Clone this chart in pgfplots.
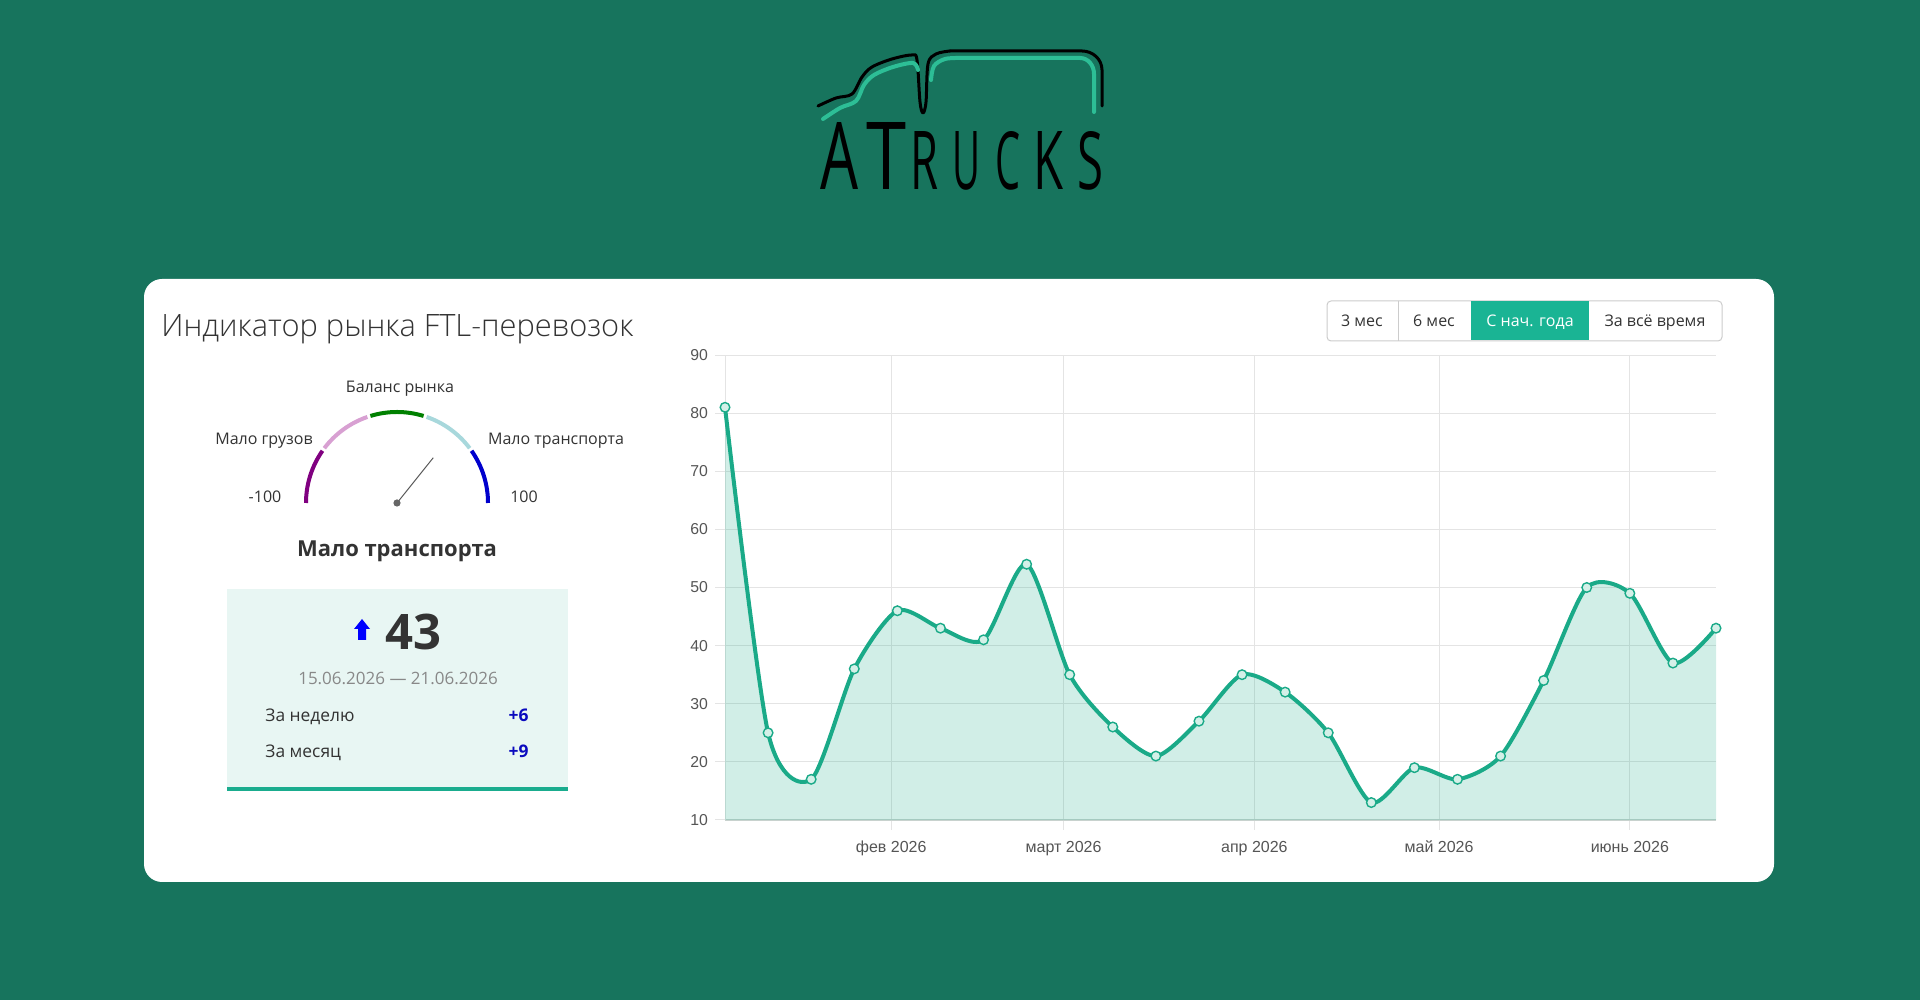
\documentclass[border=0pt]{standalone}
\usepackage{pgfplots}
\pgfplotsset{compat=1.18}
\usepackage{fontspec}
\setmainfont{Open Sans}
\IfFontExistsTF{Open Sans Light}{\newfontfamily\titlefont{Open Sans Light}}{\newfontfamily\titlefont{Open Sans}}
\newfontfamily\tickfont{Liberation Sans}
\definecolor{bg}{RGB}{23,116,93}
\definecolor{txt}{RGB}{51,51,51}
\definecolor{linec}{RGB}{26,170,136}
\definecolor{fillc}{RGB}{212,240,232}
\definecolor{gridc}{RGB}{228,228,228}
\definecolor{axisc}{RGB}{200,210,206}
\definecolor{tickc}{RGB}{85,85,85}
\definecolor{boxc}{RGB}{232,246,243}
\definecolor{boxline}{RGB}{26,172,142}
\definecolor{btnact}{RGB}{26,180,148}
\definecolor{btnborder}{RGB}{204,204,204}
\definecolor{datec}{RGB}{136,136,136}
\definecolor{plusc}{RGB}{10,10,190}
\definecolor{logoteal}{RGB}{45,190,150}
\definecolor{gpurple}{RGB}{128,0,128}
\definecolor{gplum}{RGB}{216,160,210}
\definecolor{ggreen}{RGB}{0,128,0}
\definecolor{gpowder}{RGB}{168,216,220}
\definecolor{gblue}{RGB}{0,0,205}
\newcommand{\fs}[1]{\fontsize{#1pt}{#1pt}\selectfont}
\begin{document}
\begin{tikzpicture}
\useasboundingbox (0,0) rectangle (960pt,500pt);
\fill[bg] (0,0) rectangle (960pt,500pt);
\begin{scope}[shift={(0pt,500pt)},x=0.5pt,y=-0.5pt]
  % card
  \fill[white, rounded corners=9pt] (144,279) rectangle (1774,882);
  % logo outline
  \draw[black, line width=1.5pt, line cap=round, line join=round] plot[smooth, tension=0.55] coordinates {(818,106) (836,98) (852,94) (862,77) (872,67) (892,59) (912,55) (917,60) (920,102) (923,113) (926,102) (928,64) (936,54) (950,51)};
  \draw[black, line width=1.5pt, line cap=round] (950,51) -- (1082,51) to[out=0,in=90] (1102,70) -- (1102,106);
  \draw[logoteal, line width=2pt, line cap=round, line join=round] plot[smooth, tension=0.55] coordinates {(823,119) (840,108) (856,101) (864,85) (874,75) (893,67) (913,63) (918,70)};
  \draw[logoteal, line width=2pt, line cap=round, line join=round] plot[smooth, tension=0.55] coordinates {(931,80) (934,66) (945,59) (960,58)};
  \draw[logoteal, line width=2pt, line cap=round] (960,58) -- (1080,58) to[out=0,in=90] (1094,74) -- (1094,112);
  % logo letters
  \node[anchor=base, inner sep=0] at (839,190) {\resizebox{19pt}{33.5pt}{A}};
  \node[anchor=base, inner sep=0] at (886,190) {\resizebox{20pt}{33.5pt}{T}};
  \node[anchor=base, inner sep=0] at (924,190) {\resizebox{14pt}{29pt}{R}};
  \node[anchor=base, inner sep=0] at (966,190) {\resizebox{14pt}{29pt}{U}};
  \node[anchor=base, inner sep=0] at (1008,190) {\resizebox{12.5pt}{29pt}{C}};
  \node[anchor=base, inner sep=0] at (1048,190) {\resizebox{15pt}{29pt}{K}};
  \node[anchor=base, inner sep=0] at (1090,190) {\resizebox{13pt}{29pt}{S}};
  % title
  \node[anchor=base west, inner sep=0, text=txt] at (161,337) {\titlefont\fs{15.4}Индикатор рынка FTL-перевозок};
  % gauge labels
  \node[anchor=base, inner sep=0, text=txt] at (400,393) {\fs{8}Баланс рынка};
  \node[anchor=base, inner sep=0, text=txt] at (264,445) {\fs{8}Мало грузов};
  \node[anchor=base, inner sep=0, text=txt] at (556,445) {\fs{8}Мало транспорта};
  \node[anchor=base, inner sep=0, text=txt] at (265,503) {\fs{8}-100};
  \node[anchor=base, inner sep=0, text=txt] at (524,503) {\fs{8}100};
  \node[anchor=base, inner sep=0, text=txt] at (397,557) {\fs{11}\bfseries Мало транспорта};
  % info box
  \fill[boxc] (227,589) rectangle (568,788);
  \fill[boxline] (227,787) rectangle (568,791);
  \fill[blue] (362,619) -- (370,629) -- (366,629) -- (366,640) -- (358,640) -- (358,629) -- (354,629) -- cycle;
  \node[anchor=base, inner sep=0, text=txt] at (413,650) {\fs{24.5}\bfseries 43};
  \node[anchor=base, inner sep=0, text=datec] at (398,685) {\fs{8.5}15.06.2026 — 21.06.2026};
  \node[anchor=base west, inner sep=0, text=txt] at (265,722) {\fs{8.7}За неделю};
  \node[anchor=base east, inner sep=0, text=plusc] at (529,722) {\fs{8.7}\bfseries +6};
  \node[anchor=base west, inner sep=0, text=txt] at (265,758) {\fs{8.7}За месяц};
  \node[anchor=base east, inner sep=0, text=plusc] at (529,758) {\fs{8.7}\bfseries +9};
  % buttons
  \draw[btnborder, fill=white, rounded corners=2pt, line width=0.5pt] (1327,301) rectangle (1722,341);
  \fill[btnact] (1471,301.5) rectangle (1589,340.5);
  \draw[btnborder, line width=0.5pt] (1398,301) -- (1398,341);
  \node[anchor=base, inner sep=0, text=txt] at (1362,327) {\fs{8}3 мес};
  \node[anchor=base, inner sep=0, text=txt] at (1434,327) {\fs{8}6 мес};
  \node[anchor=base, inner sep=0, text=white] at (1530,327) {\fs{8}С нач. года};
  \node[anchor=base, inner sep=0, text=txt] at (1655,327) {\fs{8}За всё время};
\end{scope}
% gauge (y up)
\begin{scope}[shift={(198.5pt,248.5pt)}]
  \draw[gpurple, line width=2pt] (180:45.5pt) arc[start angle=180, end angle=145, radius=45.5pt];
  \draw[gplum, line width=2pt] (143:45.5pt) arc[start angle=143, end angle=109, radius=45.5pt];
  \draw[ggreen, line width=2pt] (107:45.5pt) arc[start angle=107, end angle=73, radius=45.5pt];
  \draw[gpowder, line width=2pt] (71:45.5pt) arc[start angle=71, end angle=37, radius=45.5pt];
  \draw[gblue, line width=2pt] (35:45.5pt) arc[start angle=35, end angle=0, radius=45.5pt];
  \draw[black!65, line width=0.5pt] (0,0) -- (51.3:29pt);
  \fill[black!60] (0,0) circle (1.8pt);
\end{scope}
\begin{axis}[
  at={(362.5pt,90pt)}, anchor=south west,
  scale only axis, width=495.5pt, height=232.5pt,
  xmin=0, xmax=161, ymin=10, ymax=90,
  ytick={10,20,...,90},
  xtick={27,55,86,116,147},
  xticklabels={фев 2026, март 2026, апр 2026, май 2026, июнь 2026},
  axis x line=bottom, axis y line=left,
  x axis line style={draw=axisc, line width=0.8pt, -},
  y axis line style={draw=gridc, line width=0.5pt, -},
  grid=major, major grid style={draw=gridc, line width=0.5pt},
  tick align=outside, major tick length=5pt,
  tick style={draw=gridc, line width=0.5pt},
  yticklabel style={font=\tickfont\fs{7.9}, text=tickc},
  xticklabel style={font=\tickfont\fs{8}, text=tickc, yshift=-2pt},
  /pgf/number format/assume math mode=true,
  clip=false,
]
\addplot[draw=none, fill=linec, fill opacity=0.2, smooth, tension=0.45] coordinates {
(0,81) (7,25) (14,17) (21,36) (28,46) (35,43) (42,41) (49,54) (56,35) (63,26) (70,21) (77,27)
(84,35) (91,32) (98,25) (105,13) (112,19) (119,17) (126,21) (133,34) (140,50) (147,49) (154,37) (161,43)
} \closedcycle;
\addplot[linec, line width=2pt, smooth, tension=0.45, mark=*, mark size=2.4pt,
  mark options={fill=fillc, draw=linec, line width=0.7pt}] coordinates {
(0,81) (7,25) (14,17) (21,36) (28,46) (35,43) (42,41) (49,54) (56,35) (63,26) (70,21) (77,27)
(84,35) (91,32) (98,25) (105,13) (112,19) (119,17) (126,21) (133,34) (140,50) (147,49) (154,37) (161,43)
};
\end{axis}
\end{tikzpicture}
\end{document}
